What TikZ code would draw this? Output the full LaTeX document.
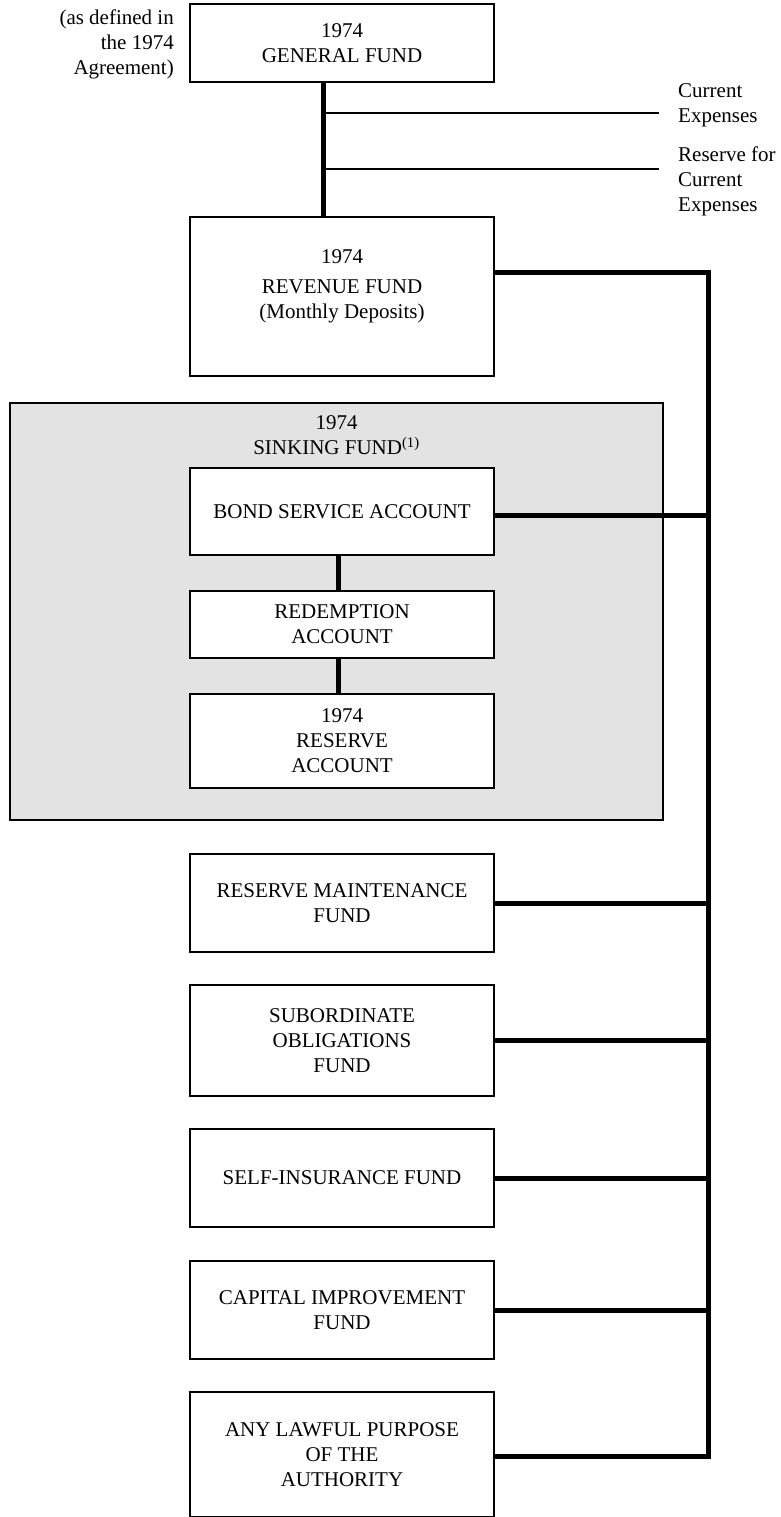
\documentclass[tikz,border=0pt]{standalone}
\usepackage{fontspec}
\setmainfont{Liberation Serif}
\definecolor{sinkgray}{HTML}{E3E3E3}
\tikzset{
  fundbox/.style={draw, line width=1.5pt, fill=white, inner sep=0pt, minimum width=304pt, align=center, font=\fontsize{21}{25}\selectfont},
  txt/.style={inner sep=0pt, align=center, font=\fontsize{21}{25}\selectfont},
  thickline/.style={line width=5pt, line join=miter},
  thinline/.style={line width=1.5pt},
}
\begin{document}
\begin{tikzpicture}[x=1pt, y=-1pt]
\useasboundingbox (0,0) rectangle (781,1517);
% sinking fund background
\node[draw, line width=1.5pt, fill=sinkgray, inner sep=0pt, minimum width=653pt, minimum height=417pt] (sink) at (336.5,611.5) {};
\node[txt] (sinktxt) at (336.5,435.5) {1974\\SINKING FUND\textsuperscript{(1)}};
% coordinates
\coordinate (trunk) at (323.4,0);
\coordinate (inner) at (338,0);
\coordinate (ce) at (659,113);
\coordinate (rce) at (659,169);
\coordinate (b0) at (708,272);
\coordinate (b1) at (708,515);
\coordinate (b2) at (708,903);
\coordinate (b3) at (708,1040);
\coordinate (b4) at (708,1178);
\coordinate (b5) at (708,1310);
\coordinate (b6) at (708,1456);
% boxes
\node[fundbox, minimum height=78pt] (gen) at (342,43) {1974\\GENERAL FUND};
\node[fundbox, minimum height=159pt] (rev) at (342,296.5) {};
\node[txt] (revyear) at (342,257) {1974};
\node[txt] (revtxt) at (342,301) {REVENUE FUND\\(Monthly Deposits)};
\node[fundbox, minimum height=87pt] (bond) at (342,511.5) {BOND SERVICE ACCOUNT};
\node[fundbox, minimum height=67pt] (red) at (342,624.5) {REDEMPTION\\ACCOUNT};
\node[fundbox, minimum height=94pt] (res) at (342,741) {1974\\RESERVE\\ACCOUNT};
\node[fundbox, minimum height=98pt] (rmf) at (342,903) {RESERVE MAINTENANCE\\FUND};
\node[fundbox, minimum height=111pt] (sub) at (342,1040.5) {SUBORDINATE\\OBLIGATIONS\\FUND};
\node[fundbox, minimum height=98pt] (self) at (342,1178) {SELF-INSURANCE FUND};
\node[fundbox, minimum height=98pt] (cap) at (342,1310) {CAPITAL IMPROVEMENT\\FUND};
\node[fundbox, minimum height=125pt] (law) at (342,1454.5) {ANY LAWFUL PURPOSE\\OF THE\\AUTHORITY};
% side texts
\node[txt, align=right, anchor=east] (note) at (174,44.5) {(as defined in\\the 1974\\Agreement)};
\node[txt, align=left, anchor=west] (cetxt) at (678,105) {Current\\Expenses};
\node[txt, align=left, anchor=west] (rcetxt) at (678,181.5) {Reserve for\\Current\\Expenses};
% connectors
\draw[thickline] (gen.south -| trunk) -- (rev.north -| trunk);
\draw[thinline] (ce -| trunk) -- (ce);
\draw[thinline] (rce -| trunk) -- (rce);
\draw[thickline] (bond.south -| inner) -- (red.north -| inner);
\draw[thickline] (red.south -| inner) -- (res.north -| inner);
\draw[thickline] (rev.east |- b0) -- (b0) -- (b6) -- (law.east |- b6);
\draw[thickline] (bond.east |- b1) -- (b1);
\draw[thickline] (rmf.east |- b2) -- (b2);
\draw[thickline] (sub.east |- b3) -- (b3);
\draw[thickline] (self.east |- b4) -- (b4);
\draw[thickline] (cap.east |- b5) -- (b5);
\end{tikzpicture}
\end{document}
